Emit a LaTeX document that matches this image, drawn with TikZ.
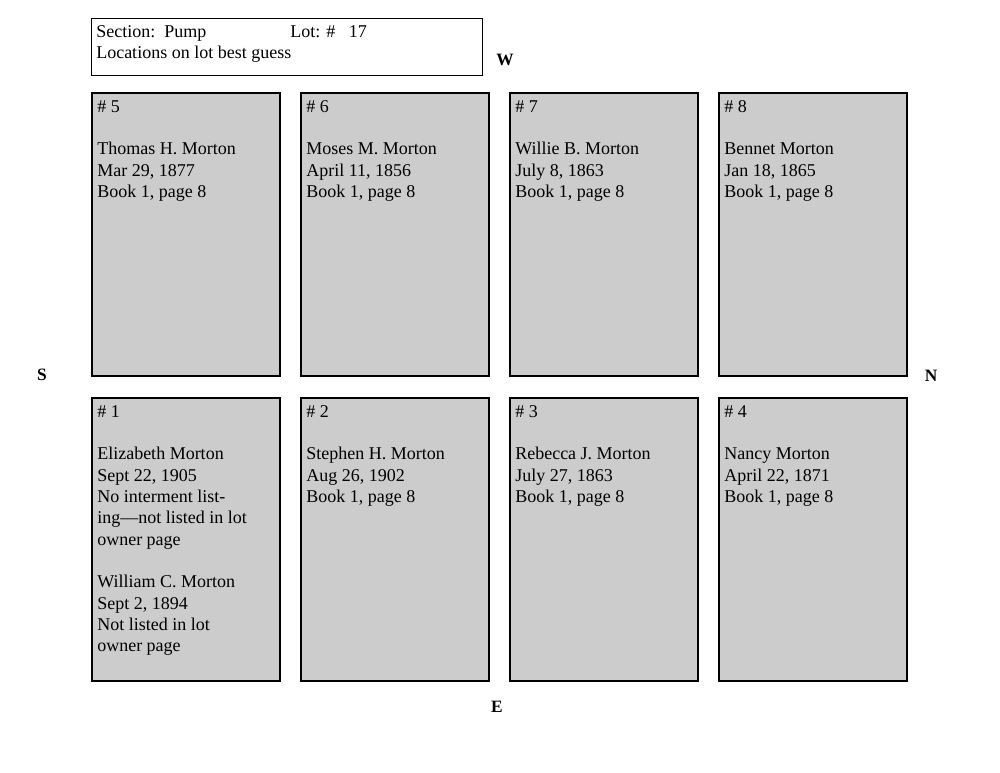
\documentclass[tikz,border=0pt]{standalone}
\usepackage{fontspec}
\setmainfont{Liberation Serif}
\begin{document}
\begin{tikzpicture}[x=0.75pt,y=-0.75pt,
  plot/.style={draw=black,line width=1.6pt,fill=black!20},
  txt/.style={anchor=north west,align=left,inner sep=0pt,font=\fontsize{13.5}{16}\selectfont},
  dir/.style={font=\fontsize{13}{16}\selectfont\bfseries}]
\useasboundingbox (0,0) rectangle (1000,773);
\node[draw,line width=0.8pt,minimum width=391*0.75pt,minimum height=57*0.75pt,anchor=north west] (hdr) at (91,18) {};
\node[txt] (h1) at (96,25) {Section:\ \ Pump};
\node[txt] (h2) at (290,25) {Lot: \#\ \ \ 17};
\node[txt] (h3) at (96,46) {Locations on lot best guess};
\node[dir] (W) at (505,60) {W};
\node[dir] (S) at (42,375) {S};
\node[dir] (N) at (931,376) {N};
\node[dir] (E) at (497,707) {E};
\foreach \n/\x/\y in {a/92/93,b/301/93,c/510/93,d/719/93,e/92/398,f/301/398,g/510/398,h/719/398}
  \draw[plot] (\x,\y) rectangle ++(188,283);
\node[txt] (t5) at (97,100) {\# 5\\[16pt]Thomas H. Morton\\Mar 29, 1877\\Book 1, page 8};
\node[txt] (t6) at (306,100) {\# 6\\[16pt]Moses M. Morton\\April 11, 1856\\Book 1, page 8};
\node[txt] (t7) at (515,100) {\# 7\\[16pt]Willie B. Morton\\July 8, 1863\\Book 1, page 8};
\node[txt] (t8) at (724,100) {\# 8\\[16pt]Bennet Morton\\Jan 18, 1865\\Book 1, page 8};
\node[txt] (t1) at (97,405) {\# 1\\[16pt]Elizabeth Morton\\Sept 22, 1905\\No interment list-\\ing---not listed in lot\\owner page\\[16pt]William C. Morton\\Sept 2, 1894\\Not listed in lot\\owner page};
\node[txt] (t2) at (306,405) {\# 2\\[16pt]Stephen H. Morton\\Aug 26, 1902\\Book 1, page 8};
\node[txt] (t3) at (515,405) {\# 3\\[16pt]Rebecca J. Morton\\July 27, 1863\\Book 1, page 8};
\node[txt] (t4) at (724,405) {\# 4\\[16pt]Nancy Morton\\April 22, 1871\\Book 1, page 8};
\end{tikzpicture}
\end{document}
